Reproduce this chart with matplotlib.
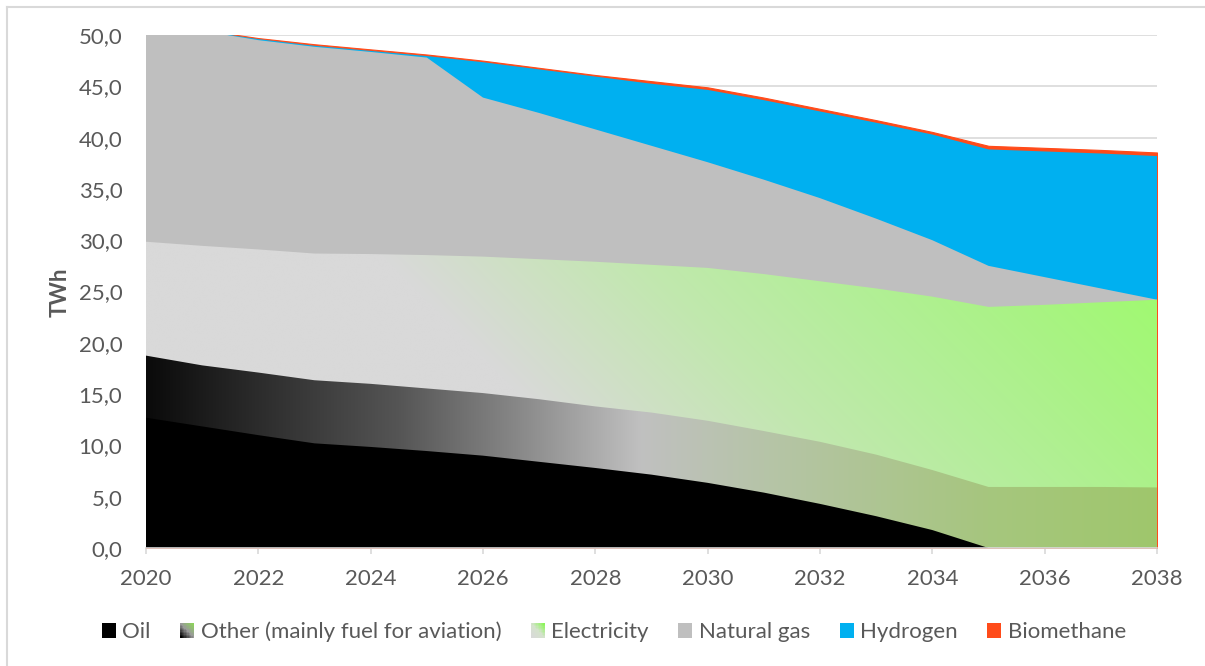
import numpy as np
import matplotlib
matplotlib.use("Agg")
import matplotlib.pyplot as plt
from matplotlib.colors import to_rgb
from matplotlib.patches import Rectangle
from matplotlib.legend_handler import HandlerBase
from matplotlib.lines import Line2D

plt.rcParams['font.family'] = ['Lato', 'DejaVu Sans']

years = list(range(2020, 2039))
oil = [12.7, 11.85, 11.0, 10.2, 9.85, 9.45, 9.0, 8.4, 7.8, 7.15, 6.35, 5.4, 4.3, 3.1, 1.75, 0.0, 0.0, 0.0, 0.0]
other = [6.05, 5.95, 6.1, 6.15, 6.15, 6.1, 6.1, 6.1, 6.0, 6.05, 6.05, 6.0, 6.05, 6.0, 5.85, 5.95, 5.95, 5.95, 5.9]
electricity = [11.1, 11.65, 12.0, 12.35, 12.65, 13.0, 13.3, 13.65, 14.1, 14.4, 14.9, 15.3, 15.65, 16.2, 16.9, 17.55, 17.75, 18.0, 18.3]
natural_gas = [21.35, 20.95, 20.4, 20.15, 19.7, 19.25, 15.5, 14.25, 12.9, 11.6, 10.3, 9.2, 8.1, 6.8, 5.5, 4.0, 2.7, 1.35, 0.0]
hydrogen = [0.0, 0.0, 0.1, 0.1, 0.1, 0.15, 3.45, 4.25, 5.15, 6.05, 7.05, 7.75, 8.45, 9.35, 10.3, 11.35, 12.25, 13.15, 14.0]
biomethane = [0.1, 0.1, 0.1, 0.15, 0.15, 0.15, 0.15, 0.15, 0.15, 0.25, 0.25, 0.25, 0.25, 0.25, 0.25, 0.35, 0.35, 0.35, 0.35]

labels = ["Oil", "Other (mainly fuel for aviation)", "Electricity", "Natural gas", "Hydrogen", "Biomethane"]
xticks = list(range(2020, 2039, 2))
yticks = list(range(0, 51, 5))

TXT = '#595959'
GRID = '#d9d9d9'
FS = 16

x = np.array(years, dtype=float)
series = [np.array(s) for s in [oil, other, electricity, natural_gas, hydrogen, biomethane]]
tops = np.cumsum(series, axis=0)

other_stops = [(2020, '#0a0a0a'), (2022, '#2c2c2c'), (2024.5, '#555555'), (2026.5, '#858585'),
               (2028.8, '#c0c0c0'), (2031, '#b6c4a8'), (2035, '#a6c67e'), (2038, '#9fc76c')]
elec_stops = [(0.0, '#d9d9d9'), (0.37, '#d9d9d9'), (0.5, '#cde1c2'), (0.62, '#c1e8ae'),
              (0.78, '#b4ee9a'), (0.95, '#a9f384'), (1.12, '#9ffb6e')]

fig = plt.figure(figsize=(12.05, 6.66), dpi=100)
ax = fig.add_axes([146/1205, 1-548/666, (1157-146)/1205, (548-35)/666])

fig.add_artist(Line2D([7/1205, 1.0], [1-7/666, 1-7/666], color=GRID, lw=1.5, transform=fig.transFigure))
fig.add_artist(Line2D([7/1205, 7/1205], [0.0, 1-7/666], color=GRID, lw=1.5, transform=fig.transFigure))

for yv in yticks[1:]:
    ax.axhline(yv, color=GRID, lw=1.2, zorder=0)

def clip_path_for(top):
    poly = ax.fill_between(x, 0, top, facecolor='none', edgecolor='none', lw=0)
    return poly.get_paths()[0]

nx, ny = 900, 300
X, Y = np.meshgrid(np.linspace(2020, 2038, nx), np.linspace(0, 50, ny))

def interp_colors(vals, stops):
    pos = np.array([s[0] for s in stops], dtype=float)
    cols = np.array([to_rgb(s[1]) for s in stops])
    out = np.zeros(np.shape(vals) + (3,))
    for k in range(3):
        out[..., k] = np.interp(vals, pos, cols[:, k])
    return out

z = 2
ax.fill_between(x, 0, tops[5], facecolor='#ff4b1a', edgecolor='#ff4b1a', lw=0.8, zorder=z)
ax.fill_between(x, 0, tops[4], facecolor='#00b0f0', edgecolor='none', lw=0, zorder=z+1)
ax.fill_between(x, 0, tops[3], facecolor='#bfbfbf', edgecolor='none', lw=0, zorder=z+2)
s = (X - 2020) / 18 + 0.25 * (Y / 25 - 0.6)
img = interp_colors(s, elec_stops)
im = ax.imshow(img, extent=[2020, 2038, 0, 50], origin='lower', aspect='auto', zorder=z+3, interpolation='bilinear')
im.set_clip_path(clip_path_for(tops[2]), transform=ax.transData)
img2 = interp_colors(X, other_stops)
im2 = ax.imshow(img2, extent=[2020, 2038, 0, 50], origin='lower', aspect='auto', zorder=z+4, interpolation='bilinear')
im2.set_clip_path(clip_path_for(tops[1]), transform=ax.transData)
ax.fill_between(x, 0, tops[0], facecolor='black', edgecolor='none', lw=0, zorder=z+5)

ax.set_xlim(2020, 2038)
ax.set_ylim(0, 50)
ax.set_xticks(xticks)
ax.set_yticks(yticks)
ax.set_yticklabels([f"{v:.1f}".replace('.', ',') for v in yticks])
ax.tick_params(axis='y', length=0, pad=17, labelsize=FS, labelcolor=TXT)
ax.tick_params(axis='x', length=4, width=1.2, color=GRID, pad=11, labelsize=FS, labelcolor=TXT)
for sp in ['top', 'right', 'left']:
    ax.spines[sp].set_visible(False)
ax.spines['bottom'].set_color(GRID)
ax.spines['bottom'].set_linewidth(1.2)
ax.spines['bottom'].set_zorder(20)

fig.text(60/1205, 1-292/666, 'TWh', rotation=90, ha='center', va='center', fontsize=FS,
         fontweight='bold', color=TXT)

class GradHandler(HandlerBase):
    def __init__(self, stops):
        super().__init__()
        self.stops = stops
    def create_artists(self, legend, orig_handle, xdescent, ydescent, width, height, fontsize, trans):
        n = 10
        sz = height
        x0 = -xdescent + (width - sz) / 2
        y0 = -ydescent
        arts = []
        for i in range(n):
            for j in range(n):
                t = (i + j) / (2 * n - 2)
                c = interp_colors(t, self.stops)
                r = Rectangle((x0 + i * sz / n, y0 + j * sz / n), sz / n * 1.08, sz / n * 1.08,
                              facecolor=tuple(c), edgecolor='none', lw=0, transform=trans)
                arts.append(r)
        return arts

class SquareHandler(HandlerBase):
    def create_artists(self, legend, orig_handle, xdescent, ydescent, width, height, fontsize, trans):
        sz = height
        x0 = -xdescent + (width - sz) / 2
        return [Rectangle((x0, -ydescent), sz, sz, facecolor=orig_handle.get_facecolor(),
                          edgecolor='none', lw=0, transform=trans)]

leg_other_stops = [(0.0, '#000000'), (0.5, '#9a9a9a'), (1.0, '#8cd45a')]
leg_elec_stops = [(0.0, '#d9d9d9'), (0.5, '#d4e2cc'), (1.0, '#8cf55a')]

h_oil = Rectangle((0, 0), 1, 1, facecolor='black')
h_other = Rectangle((0, 0), 1, 1, facecolor='grey')
h_elec = Rectangle((0, 0), 1, 1, facecolor='lightgreen')
h_gas = Rectangle((0, 0), 1, 1, facecolor='#bfbfbf')
h_h2 = Rectangle((0, 0), 1, 1, facecolor='#00b0f0')
h_bio = Rectangle((0, 0), 1, 1, facecolor='#ff4b1a')
handles = [h_oil, h_other, h_elec, h_gas, h_h2, h_bio]
hmap = {h_oil: SquareHandler(), h_other: GradHandler(leg_other_stops), h_elec: GradHandler(leg_elec_stops),
        h_gas: SquareHandler(), h_h2: SquareHandler(), h_bio: SquareHandler()}
leg = fig.legend(handles, labels, handler_map=hmap, loc='center', bbox_to_anchor=(614/1205, 1-632/666),
                 ncol=6, frameon=False, fontsize=FS, handlelength=0.6, handleheight=0.6,
                 handletextpad=0.3, columnspacing=1.35, borderpad=0)
for t in leg.get_texts():
    t.set_color(TXT)

fig.savefig('out.png', dpi=100)
